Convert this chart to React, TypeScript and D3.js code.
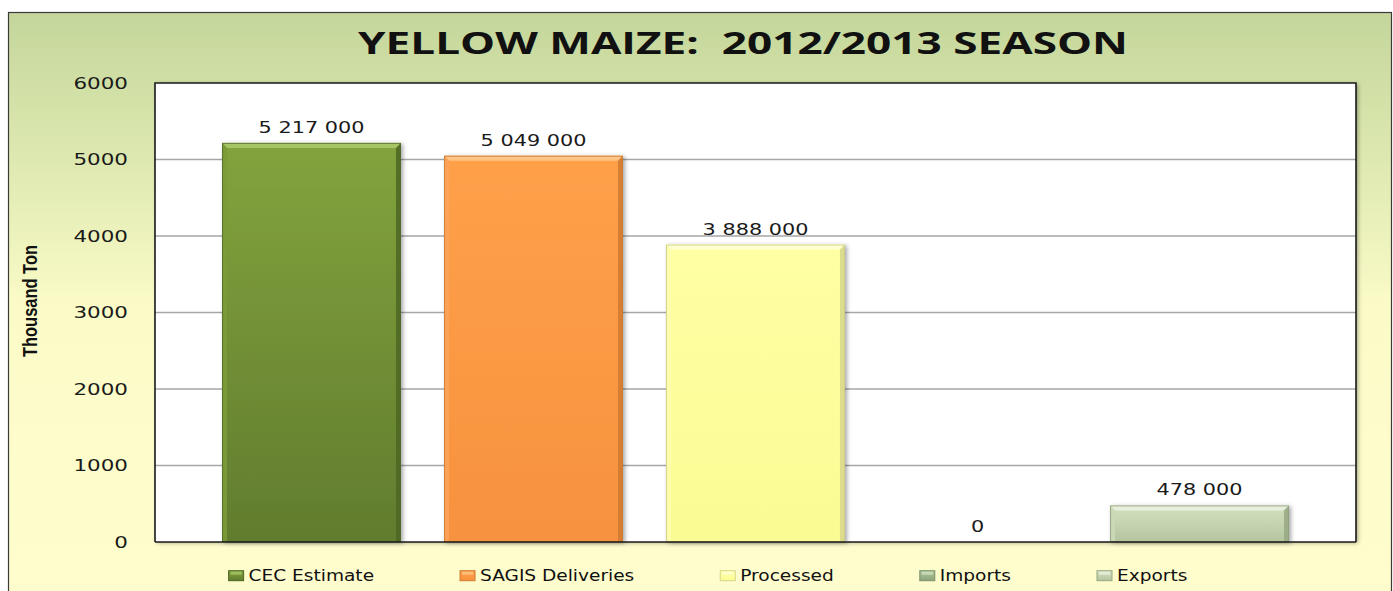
import React, { useEffect, useRef } from "react";
import * as d3 from "d3";

// chart data (thousand ton)
const seriesNames = ["CEC Estimate", "SAGIS Deliveries", "Processed", "Imports", "Exports"];
const values = [5217, 5049, 3888, 0, 478];
const valueLabels = ["5 217 000", "5 049 000", "3 888 000", "0", "478 000"];
const yTicks = [0, 1000, 2000, 3000, 4000, 5000, 6000];
const titleText = "YELLOW MAIZE:  2012/2013 SEASON";
const yTitle = "Thousand Ton";

// bar palettes: [bodyTop, bodyBottom, bevelTop, leftEdge, rightEdge, outline]
const palettes = [
  ["#83a33d", "#617c2e", "#a8c565", "#7b9a39", "#4e6623", "#52692a"],
  ["#ffa049", "#f7923f", "#ffc486", "#fca35a", "#cf7a30", "#c87a35"],
  ["#ffffa4", "#fbfb94", "#ffffd4", "#fdfdae", "#d6d68a", "#c9c985"],
  ["#aec49a", "#8ea67c", "#cfe0bf", "#a5bb91", "#7a8f69", "#7a8f69"],
  ["#d4e1c0", "#b5c5a0", "#e7efdb", "#cbd9b6", "#97a882", "#8e9e7b"],
];

const W = 1393;
const H = 591;
const frame = { x: 8, y: 12, r: 1391 };
const plot = { l: 155, t: 83, r: 1356, b: 542 };
const NUM_SX = 1.3;
const LEG_SX = 1.16;

export default function App() {
  const ref = useRef<SVGSVGElement | null>(null);

  useEffect(() => {
    const svg = d3.select(ref.current);
    svg.selectAll("*").remove();

    const defs = svg.append("defs");
    const bg = defs.append("linearGradient").attr("id", "bg").attr("x1", 0).attr("y1", 0).attr("x2", 0).attr("y2", 1);
    bg.append("stop").attr("offset", "0%").attr("stop-color", "#c4d69b");
    bg.append("stop").attr("offset", "22%").attr("stop-color", "#dbe7ae");
    bg.append("stop").attr("offset", "48%").attr("stop-color", "#fbfbc8");
    bg.append("stop").attr("offset", "100%").attr("stop-color", "#fffdcd");

    const shadow = defs.append("filter").attr("id", "shadow").attr("x", "-10%").attr("y", "-10%").attr("width", "130%").attr("height", "130%");
    shadow.append("feDropShadow").attr("dx", 2).attr("dy", 1).attr("stdDeviation", 2)
      .attr("flood-color", "#000").attr("flood-opacity", 0.35);

    palettes.forEach((p, i) => {
      const g = defs.append("linearGradient").attr("id", `bar${i}`).attr("x1", 0).attr("y1", 0).attr("x2", 0).attr("y2", 1);
      g.append("stop").attr("offset", "0%").attr("stop-color", p[0]);
      g.append("stop").attr("offset", "100%").attr("stop-color", p[1]);
    });

    // outer frame
    svg.append("rect").attr("x", 0).attr("y", 0).attr("width", W).attr("height", H).attr("fill", "#ffffff");
    svg.append("rect")
      .attr("x", frame.x + 0.5).attr("y", frame.y + 0.5)
      .attr("width", frame.r - frame.x).attr("height", H + 20)
      .attr("fill", "url(#bg)").attr("stroke", "#3a3a3a").attr("stroke-width", 1.2);

    // title
    svg.append("text")
      .attr("x", 743).attr("y", 54)
      .attr("text-anchor", "middle")
      .attr("textLength", 770).attr("lengthAdjust", "spacingAndGlyphs")
      .style("white-space", "pre")
      .style("font-family", "'Open Sans', 'DejaVu Sans', sans-serif")
      .style("font-weight", 700).style("font-size", "31px")
      .attr("fill", "#111")
      .text(titleText);

    const x = d3.scaleBand<string>()
      .domain(seriesNames)
      .range([plot.l, plot.r])
      .paddingInner(0.194)
      .paddingOuter(0.302);
    const y = d3.scaleLinear().domain([0, 6000]).range([plot.b, plot.t]);

    // plot area
    svg.append("rect")
      .attr("x", plot.l).attr("y", plot.t)
      .attr("width", plot.r - plot.l).attr("height", plot.b - plot.t)
      .attr("fill", "#ffffff").attr("filter", "url(#shadow)");

    // gridlines
    svg.append("g").selectAll("line")
      .data(yTicks.filter((t) => t > 0 && t < 6000))
      .join("line")
      .attr("x1", plot.l).attr("x2", plot.r)
      .attr("y1", (d) => y(d)).attr("y2", (d) => y(d))
      .attr("stroke", "#a6a6a6").attr("stroke-width", 1.5);

    // y axis labels
    const axis = svg.append("g")
      .attr("transform", `translate(${plot.l},0)`)
      .call(d3.axisLeft(y).tickValues(yTicks).tickSize(0).tickPadding(27 / NUM_SX).tickFormat((d) => String(d)));
    axis.select(".domain").remove();
    axis.selectAll("text")
      .attr("transform", `scale(${NUM_SX},1)`)
      .attr("fill", "#1a1a1a")
      .style("font-family", "'DejaVu Sans', Verdana, sans-serif")
      .style("font-size", "16.5px");

    // y axis title
    svg.append("text")
      .attr("transform", "translate(37,301) rotate(-90)")
      .attr("text-anchor", "middle")
      .attr("textLength", 112).attr("lengthAdjust", "spacingAndGlyphs")
      .style("font-family", "'Liberation Sans Narrow', 'Liberation Sans', Arial, sans-serif")
      .style("font-weight", 700).style("font-size", "21px")
      .attr("fill", "#111")
      .text(yTitle);

    // bars with bevel
    const bw = x.bandwidth();
    const bv = 5;
    const bars = svg.append("g");
    seriesNames.forEach((name, i) => {
      const v = values[i];
      if (v <= 0) return;
      const p = palettes[i];
      const x0 = x(name)!;
      const x1 = x0 + bw;
      const y0 = y(v);
      const y1 = y(0);
      const g = bars.append("g");
      g.append("rect")
        .attr("x", x0).attr("y", y0).attr("width", bw).attr("height", y1 - y0)
        .attr("fill", `url(#bar${i})`).attr("filter", "url(#shadow)");
      const b = Math.min(bv, (y1 - y0) / 2);
      g.append("polygon")
        .attr("points", [[x0, y0], [x1, y0], [x1 - b, y0 + b], [x0 + b, y0 + b]].join(" "))
        .attr("fill", p[2]);
      g.append("polygon")
        .attr("points", [[x0, y0], [x0 + b, y0 + b], [x0 + b, y1], [x0, y1]].join(" "))
        .attr("fill", p[3]).attr("opacity", 0.9);
      g.append("polygon")
        .attr("points", [[x1, y0], [x1 - b, y0 + b], [x1 - b, y1], [x1, y1]].join(" "))
        .attr("fill", p[4]).attr("opacity", 0.85);
      g.append("rect")
        .attr("x", x0 + 0.5).attr("y", y0 + 0.5).attr("width", bw - 1).attr("height", y1 - y0 - 1)
        .attr("fill", "none").attr("stroke", p[5]).attr("stroke-width", 1).attr("opacity", 0.8);
    });

    // plot border (top, left, right) + category axis
    svg.append("path")
      .attr("d", `M${plot.l},${plot.b} V${plot.t} H${plot.r} V${plot.b}`)
      .attr("fill", "none").attr("stroke", "#1a1a1a").attr("stroke-width", 1.6);
    svg.append("line")
      .attr("x1", plot.l).attr("x2", plot.r).attr("y1", plot.b).attr("y2", plot.b)
      .attr("stroke", "#1a1a1a").attr("stroke-width", 1.6);

    // value labels
    svg.append("g").selectAll("text")
      .data(seriesNames)
      .join("text")
      .attr("transform", (d, i) => `translate(${x(d)! + bw / 2},${y(values[i]) - 10}) scale(${NUM_SX},1)`)
      .attr("text-anchor", "middle")
      .style("font-family", "'DejaVu Sans', Verdana, sans-serif")
      .style("font-size", "16px")
      .attr("fill", "#1a1a1a")
      .text((d, i) => valueLabels[i]);

    // legend (flow layout centred under chart)
    const legY = 575.7;
    const gap = 86;
    const leg = svg.append("g");
    const items = seriesNames.map((name, i) => {
      const g = leg.append("g");
      g.append("rect")
        .attr("x", 0).attr("y", legY - 5).attr("width", 15).attr("height", 10)
        .attr("fill", `url(#bar${i})`).attr("stroke", palettes[i][4]).attr("stroke-width", 1);
      g.append("rect")
        .attr("x", 2).attr("y", legY - 4).attr("width", 11).attr("height", 3)
        .attr("fill", palettes[i][2]).attr("opacity", 0.8);
      const t = g.append("text")
        .attr("transform", `translate(20,${legY}) scale(${LEG_SX},1)`)
        .attr("dominant-baseline", "central")
        .style("font-family", "'DejaVu Sans', Verdana, sans-serif")
        .style("font-size", "16px")
        .attr("fill", "#111")
        .text(name);
      const tw = (t.node() as SVGTextElement).getComputedTextLength() * LEG_SX;
      return { g, w: 20 + tw };
    });
    const total = d3.sum(items, (d) => d.w) + gap * (items.length - 1);
    let cx = 708 - total / 2;
    items.forEach((it) => {
      it.g.attr("transform", `translate(${cx},0)`);
      cx += it.w + gap;
    });
  }, []);

  return (
    <svg
      ref={ref}
      width={W}
      height={H}
      style={{ position: "absolute", left: 0, top: 0, display: "block" }}
    />
  );
}
